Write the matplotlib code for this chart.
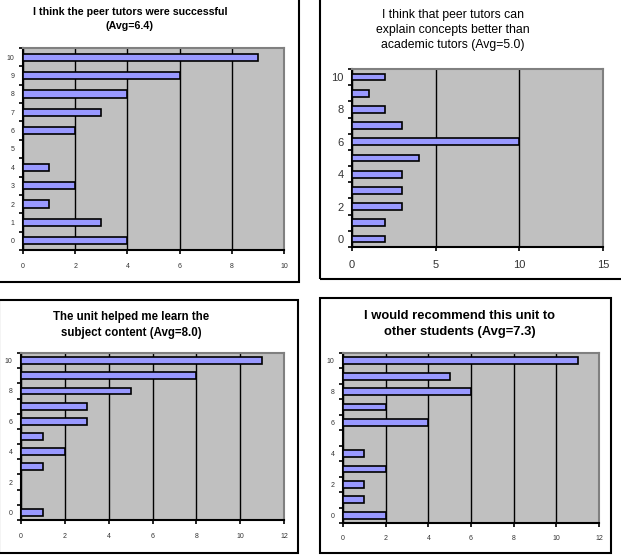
import numpy as np
import matplotlib
matplotlib.use("Agg")
import matplotlib.pyplot as plt
from matplotlib.patches import Rectangle

plt.rcParams['font.family'] = ['Liberation Sans', 'DejaVu Sans']

W, H = 621, 556

scores = list(range(11))

# survey counts for each score 0..10
successful = [4, 3, 1, 2, 1, 0, 2, 3, 4, 6, 9]
explain = [2, 2, 3, 3, 3, 4, 10, 3, 2, 1, 2]
learn = [1, 0, 0, 1, 2, 1, 3, 3, 5, 8, 11]
recommend = [2, 1, 1, 2, 1, 0, 4, 2, 6, 5, 11]

titles = [
    "I think the peer tutors were successful\n(Avg=6.4)",
    "I think that peer tutors can\nexplain concepts better than\nacademic tutors (Avg=5.0)",
    "The unit helped me learn the\nsubject content (Avg=8.0)",
    "I would recommend this unit to\nother students (Avg=7.3)",
]

BAR = '#9999ff'
BG = '#c0c0c0'


def px_rect(x0, y0, x1, y1):
    return [x0 / W, 1 - y1 / H, (x1 - x0) / W, (y1 - y0) / H]


def draw_panel(fig, rect, values, xmax, xstep, ylabels, fs, height):
    ax = fig.add_axes(px_rect(*rect))
    ax.set_facecolor(BG)
    ax.barh(scores, values, height=height, color=BAR, edgecolor='black',
            linewidth=1.2, zorder=3)
    ax.set_xlim(0, xmax)
    ax.set_ylim(-0.5, 10.5)
    ax.set_xticks(np.arange(0, xmax + 0.1, xstep))
    ax.xaxis.grid(True, color='black', linewidth=1.0, zorder=1)
    ax.set_axisbelow(True)
    # category boundaries carry the tick marks, centres carry the labels
    ax.set_yticks(np.arange(-0.5, 11, 1.0))
    ax.set_yticklabels([])
    ax.set_yticks(ylabels, minor=True)
    ax.set_yticklabels([str(v) for v in ylabels], minor=True)
    ax.tick_params(axis='y', which='major', length=3, width=1.2, direction='out')
    ax.tick_params(axis='y', which='minor', length=0, labelsize=fs, pad=6,
                   labelcolor='#333333')
    ax.tick_params(axis='x', length=3, width=1.2, labelsize=fs, pad=6,
                   labelcolor='#333333')
    for s in ['left', 'bottom']:
        ax.spines[s].set_color('black')
        ax.spines[s].set_linewidth(1.5)
    for s in ['top', 'right']:
        ax.spines[s].set_color('#808080')
        ax.spines[s].set_linewidth(1.5)
    return ax


fig = plt.figure(figsize=(W / 100, H / 100), dpi=100)

# panel frames
frames = [(-5, -5, 299, 282), (320, -5, 630, 279), (-1, 300, 298, 553),
          (320, 298, 611, 553)]
for x0, y0, x1, y1 in frames:
    fig.patches.append(Rectangle((x0 / W, 1 - y1 / H), (x1 - x0) / W,
                                 (y1 - y0) / H, transform=fig.transFigure,
                                 fill=False, edgecolor='black', linewidth=1.5))

draw_panel(fig, (23, 48, 284, 250), successful, 10, 2, scores, 5, 0.4)
draw_panel(fig, (352, 69, 603, 247), explain, 15, 5, [0, 2, 4, 6, 8, 10], 8, 0.42)
draw_panel(fig, (21, 353, 284, 520), learn, 12, 2, [0, 2, 4, 6, 8, 10], 5, 0.45)
draw_panel(fig, (343, 353, 599, 523), recommend, 12, 2, [0, 2, 4, 6, 8, 10], 5, 0.43)

fig.text(130 / W, 1 - 19 / H, titles[0], ha='center', va='center',
         fontsize=7.7, fontweight='bold', linespacing=1.6)
fig.text(453 / W, 1 - 30 / H, titles[1], ha='center', va='center',
         fontsize=8.8, linespacing=1.3)
fig.text(131 / W, 1 - 325 / H, titles[2], ha='center', va='center',
         fontsize=8.3, fontweight='bold', linespacing=1.45)
fig.text(460 / W, 1 - 324 / H, titles[3], ha='center', va='center',
         fontsize=9.4, fontweight='bold', linespacing=1.55)

fig.savefig('out.png', dpi=100)
